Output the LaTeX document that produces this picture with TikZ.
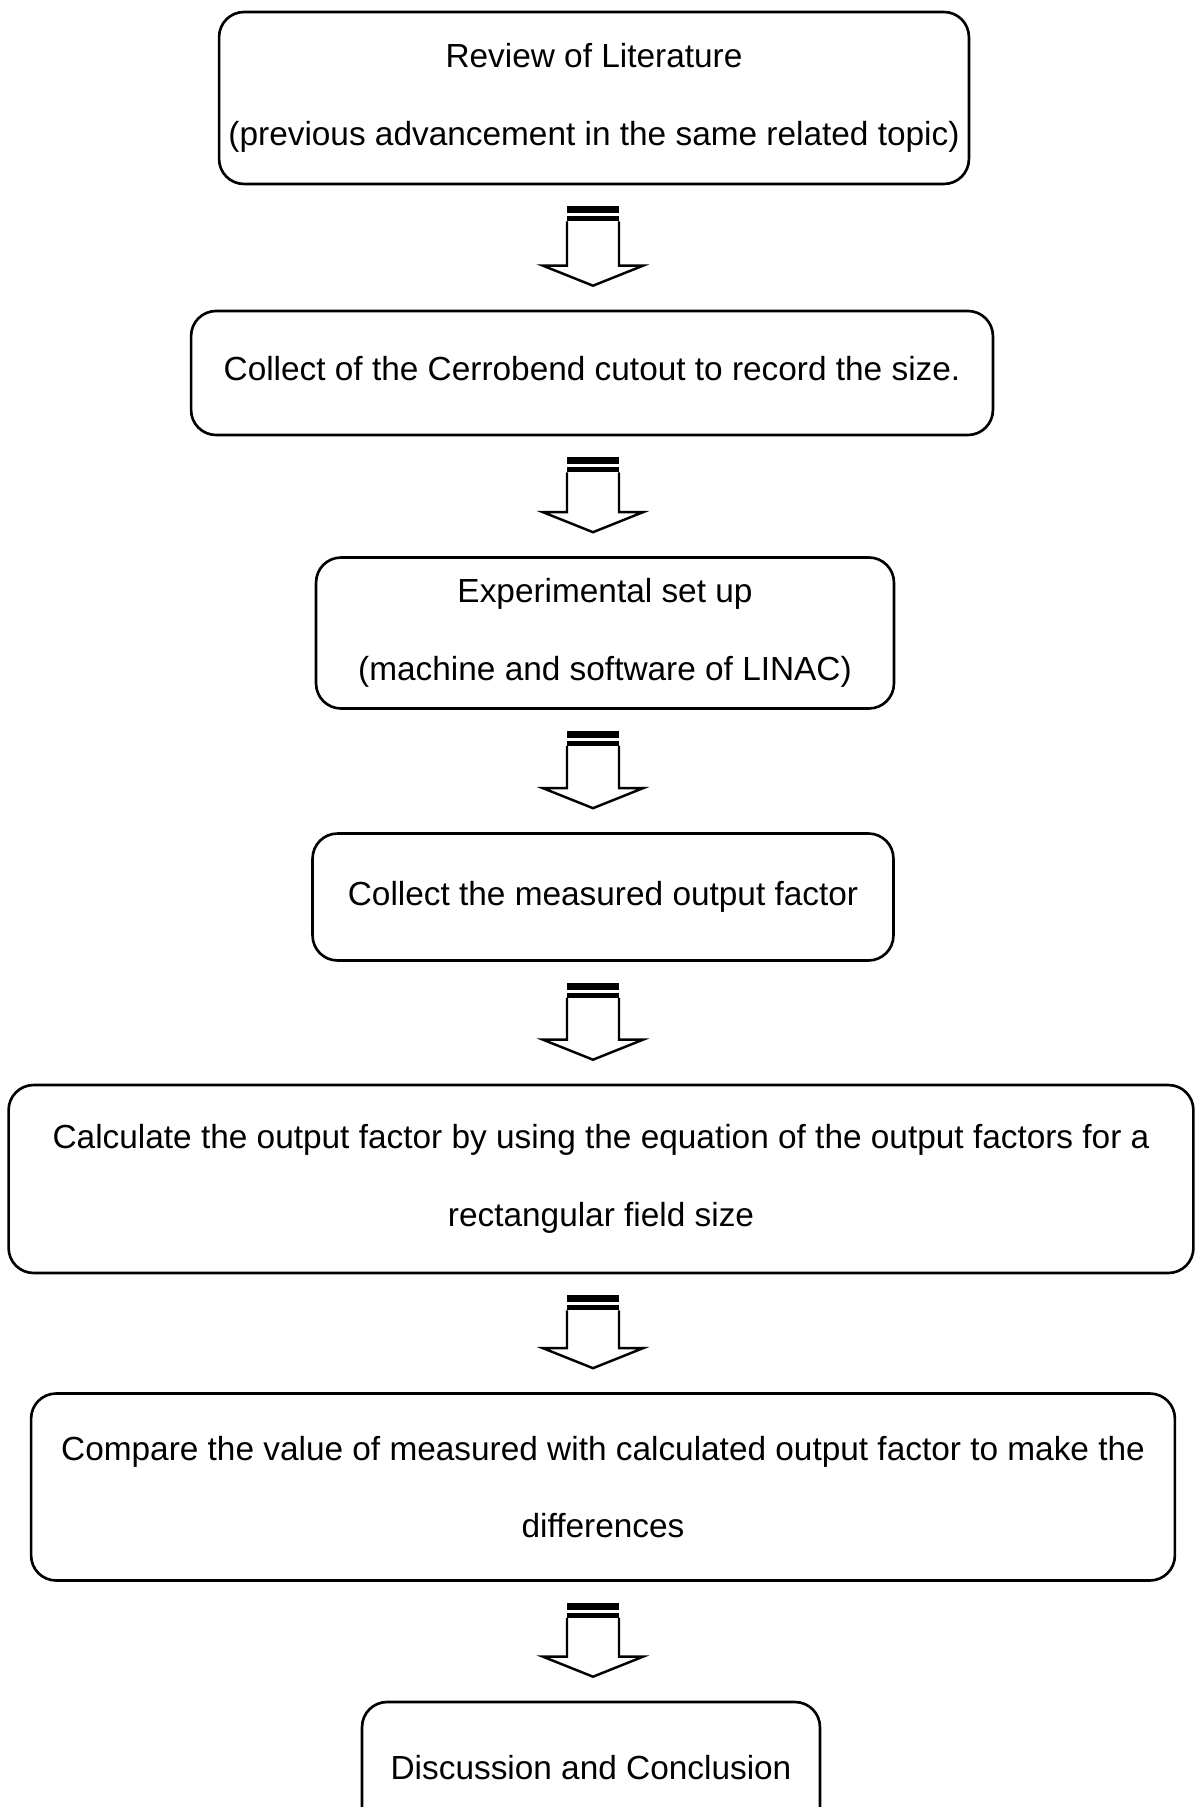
\documentclass[tikz,border=0pt]{standalone}
\usepackage{fontspec}
\setmainfont{Liberation Sans}
\usetikzlibrary{%
  arrows,%
  shapes.misc,% wg. rounded rectangle
  positioning,% wg. " of "
  calc%
}

\tikzset{
  stagebox/.style={draw, rounded corners=0.5cm, line width=1.5pt, align=center,
    inner sep=0pt, font=\fontsize{19}{44}\selectfont},
}

% block arrow between two stages, drawn on the column (col)
\newcommand{\flowarrow}[2]{%
  \coordinate (at) at ($(col |- #1.south)+(0,21)$);
  \coordinate (ab) at ($(col |- #2.north)+(0,-24)$);
  \fill ($(at)+(-26,0)$) rectangle ($(at)+(26,7)$);
  \fill ($(at)+(-26,10)$) rectangle ($(at)+(26,15)$);
  \draw [line width=1.4pt, line join=miter] ($(at)+(-26,15)$) -- ($(ab)+(-26,-20)$)
    -- ($(ab)+(-50,-20)$) -- (ab) -- ($(ab)+(50,-20)$) -- ($(ab)+(26,-20)$) -- ($(at)+(26,15)$);
}

\begin{document}
\begin{tikzpicture}[x=0.02cm, y=-0.02cm, thick]

\path [use as bounding box, clip] (0,0) rectangle (1196,1807);
\coordinate (col) at (593,0);

% --------
\node [stagebox, minimum width=15cm, minimum height=3.44cm] (review) at (594,98)
  {Review of Literature\\(previous advancement in the same related topic)};
\node [stagebox, minimum width=16.04cm, minimum height=2.48cm] (cutout) at (592,373)
  {\raisebox{5pt}{Collect of the Cerrobend cutout to record the size.}};
\node [stagebox, minimum width=11.56cm, minimum height=3.02cm] (setup) at (605,633)
  {Experimental set up\\(machine and software of LINAC)};
\node [stagebox, minimum width=11.62cm, minimum height=2.54cm] (measured) at (603,897)
  {\raisebox{-3pt}{Collect the measured output factor}};
\node [stagebox, minimum width=23.7cm, minimum height=3.76cm] (calc) at (601,1179)
  {Calculate the output factor by using the equation of the output factors for a\\rectangular field size};
\node [stagebox, minimum width=22.88cm, minimum height=3.74cm] (compare) at (603,1487)
  {Compare the value of measured with calculated output factor to make the\\differences};
\node [stagebox, minimum width=9.16cm, minimum height=2.64cm] (conclusion) at (591,1768)
  {Discussion and Conclusion};

% --------
\flowarrow{review}{cutout}
\flowarrow{cutout}{setup}
\flowarrow{setup}{measured}
\flowarrow{measured}{calc}
\flowarrow{calc}{compare}
\flowarrow{compare}{conclusion}

\end{tikzpicture}
\end{document}
